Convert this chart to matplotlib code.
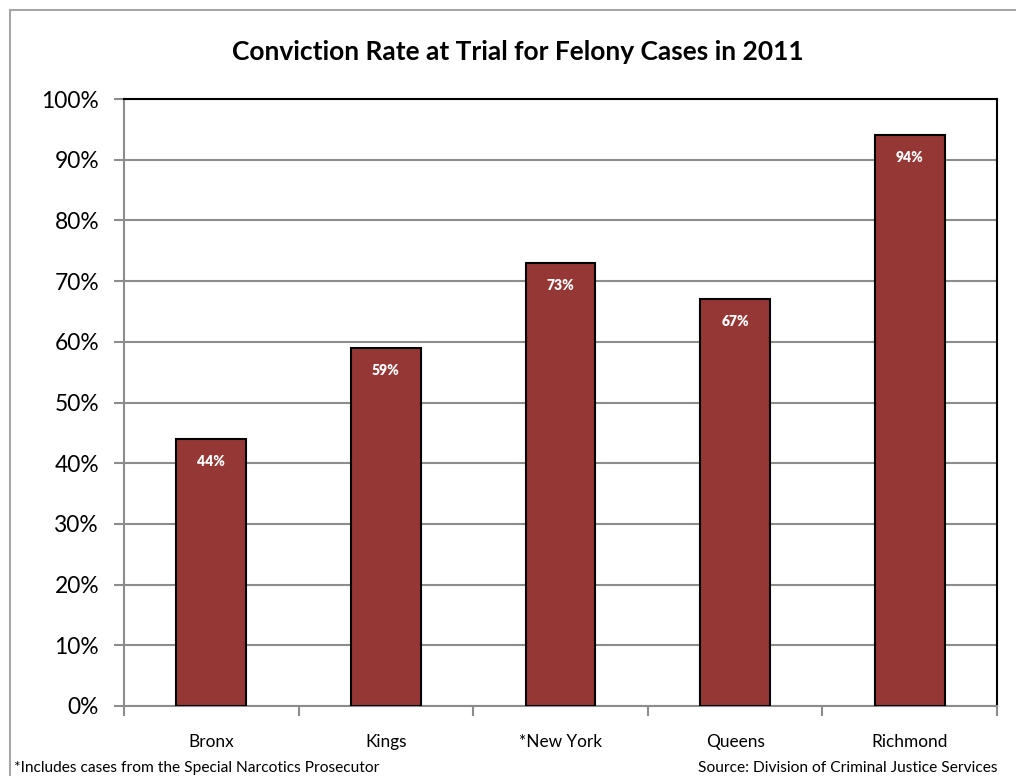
import matplotlib
matplotlib.use("Agg")
import matplotlib.pyplot as plt
from matplotlib.lines import Line2D
from matplotlib.ticker import FixedLocator, FuncFormatter

categories = ["Bronx", "Kings", "*New York", "Queens", "Richmond"]
values = [44, 59, 73, 67, 94]
yticks = [0, 10, 20, 30, 40, 50, 60, 70, 80, 90, 100]

plt.rcParams['font.family'] = ['Lato', 'DejaVu Sans']

W, H = 1016, 776
fig = plt.figure(figsize=(W/100, H/100), dpi=100)
ax = fig.add_axes([124/W, 1-706/H, (997-124)/W, (706-99)/H])

gray = '#8c8c8c'
x = list(range(len(categories)))
bars = ax.bar(x, values, width=0.4, color='#953735', edgecolor='black', linewidth=1.5, zorder=3)
for xi, v in zip(x, values):
    ax.annotate(f"{v}%", (xi, v), xytext=(0, -16), textcoords='offset points',
                ha='center', va='center', color='white', fontsize=10, fontweight='heavy', zorder=4)

ax.set_xlim(-0.5, len(categories) - 0.5)
ax.set_ylim(0, 100)
ax.set_yticks(yticks)
ax.yaxis.set_major_formatter(FuncFormatter(lambda v, p: f"{int(v)}%"))
ax.grid(axis='y', color=gray, linewidth=1.5, zorder=0)
ax.set_xticks(x)
ax.set_xticklabels(categories, fontsize=12.4)
ax.xaxis.set_minor_locator(FixedLocator([i - 0.5 for i in range(len(categories) + 1)]))
ax.tick_params(axis='x', which='major', length=0, pad=20)
ax.tick_params(axis='x', which='minor', length=7, color=gray, width=1.5, direction='out')
ax.tick_params(axis='y', length=7, color=gray, width=1.5, labelsize=16.4, pad=11)
for s in ['left', 'bottom']:
    ax.spines[s].set_color(gray)
    ax.spines[s].set_linewidth(1.5)
for s in ['top', 'right']:
    ax.spines[s].set_color('black')
    ax.spines[s].set_linewidth(1.5)
ax.spines['top'].set_zorder(5)

fig.text(518/W, 1-52/H, "Conviction Rate at Trial for Felony Cases in 2011", ha='center', va='center',
         fontsize=19, fontweight='bold')
fig.text(14/W, 1-768/H, "*Includes cases from the Special Narcotics Prosecutor", ha='left', va='center', fontsize=11.2)
fig.text(997/W, 1-768/H, "Source: Division of Criminal Justice Services", ha='right', va='center', fontsize=11.2)

fig.add_artist(Line2D([10/W, 10/W], [0, 1-10/H], color='#a6a6a6', linewidth=1.5, transform=fig.transFigure))
fig.add_artist(Line2D([10/W, 1], [1-10/H, 1-10/H], color='#a6a6a6', linewidth=1.5, transform=fig.transFigure))

fig.savefig("out.png", dpi=100)
